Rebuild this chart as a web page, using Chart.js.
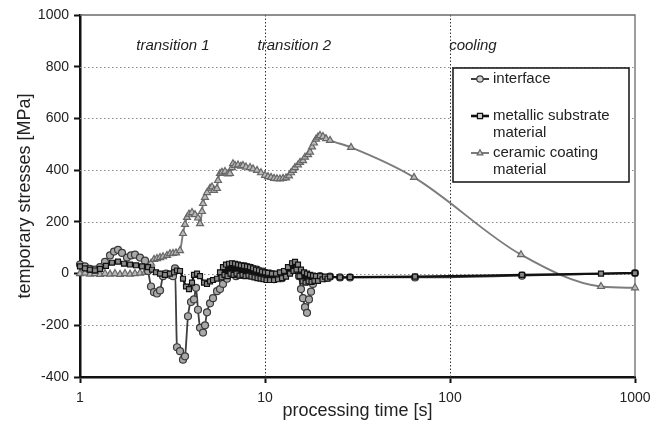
<!DOCTYPE html>
<html><head><meta charset="utf-8">
<script src="https://cdn.jsdelivr.net/npm/chart.js@4.4.0/dist/chart.umd.min.js"></script>
<style>html,body{margin:0;padding:0;background:#fff}#wrap{width:662px;height:422px}</style>
</head><body><div id="wrap"><canvas id="c" width="662" height="422"></canvas></div>
<script>
const xTickValues = [1, 10, 100, 1000];
const yGridValues = [-200, 0, 200, 400, 600, 800];
const xGridValues = [10, 100];

const interfaceX = [1.000,1.064,1.132,1.205,1.283,1.365,1.453,1.527,1.605,1.687,1.795,1.887,1.983,2.110,2.246,2.332,2.420,2.512,2.607,2.707,2.810,2.917,3.065,3.182,3.262,3.344,3.472,3.604,3.695,3.835,3.981,4.132,4.237,4.343,4.454,4.623,4.739,4.859,5.044,5.236,5.503,5.712,5.929,6.231,6.467,6.715,6.970,7.235,7.510,7.797,8.093,8.402,8.722,9.055,9.397,9.754,10.13,10.64,11.19,11.76,12.36,12.99,13.65,14.17,14.71,15.27,15.65,16.05,16.45,16.87,17.29,17.73,18.17,18.86,19.83,21.10,22.46,25.43,28.81,64.7,245,1000];
const interfaceY = [35,28,18,15,25,45,70,85,92,80,62,70,73,62,50,10,-50,-72,-77,-65,-10,0,-5,-10,20,-285,-300,-333,-320,-165,-110,-100,-55,-140,-210,-228,-200,-150,-115,-95,-68,-60,-40,-20,0,25,-10,30,-5,28,0,22,-8,15,-12,8,-20,0,-22,-5,-18,0,10,35,25,-10,-60,-95,-130,-152,-100,-70,-40,-20,-10,-18,-12,-15,-15,-15,-8,2];

const metallicX = [1.000,1.064,1.132,1.205,1.283,1.382,1.489,1.605,1.729,1.863,2.008,2.164,2.332,2.450,2.575,2.707,2.881,3.065,3.222,3.344,3.472,3.604,3.741,3.883,4.031,4.132,4.290,4.454,4.681,4.859,5.044,5.236,5.503,5.712,5.82,5.929,6.04,6.154,6.27,6.389,6.51,6.633,6.76,6.884,7.01,7.145,7.28,7.418,7.56,7.700,7.85,7.993,8.14,8.298,8.45,8.614,8.78,8.943,9.11,9.281,9.46,9.634,9.82,10.00,10.19,10.38,10.64,10.91,11.19,11.47,11.76,12.05,12.36,12.67,12.99,13.31,13.65,14.00,14.26,14.53,14.80,15.08,15.36,15.65,15.95,16.25,16.56,16.87,17.19,17.51,17.84,18.17,18.51,18.86,19.34,19.83,20.45,21.10,21.77,22.46,25.43,28.81,64.7,245,655,1000];
const metallicY = [28,20,15,12,18,30,42,46,38,35,32,28,25,15,5,0,-5,0,5,12,10,-20,-50,-60,-35,-5,0,-10,-35,-40,-30,-25,-20,5,-15,25,-5,35,-10,38,0,40,-5,38,0,35,-8,32,-5,30,-10,28,-8,25,-12,20,-15,15,-18,12,-20,8,-22,5,-25,3,-25,0,-25,0,-22,5,-18,10,-12,25,0,40,10,45,15,35,-10,15,-30,5,-35,0,-30,-5,-32,-8,-28,-10,-28,-10,-22,-12,-20,-12,-15,-14,-12,-5,0,2];

const ceramicX = [1.000,1.064,1.132,1.205,1.283,1.365,1.453,1.546,1.645,1.751,1.863,1.983,2.110,2.246,2.332,2.420,2.512,2.607,2.707,2.810,2.953,3.065,3.182,3.303,3.472,3.604,3.695,3.788,3.883,4.031,4.184,4.343,4.454,4.566,4.623,4.739,4.859,5.044,5.171,5.301,5.503,5.572,5.712,5.856,6.079,6.310,6.467,6.633,6.715,6.884,7.145,7.418,7.605,7.894,8.298,8.614,9.055,9.515,10.00,10.38,10.78,11.19,11.61,12.05,12.51,12.99,13.48,13.82,14.17,14.53,15.08,15.46,16.05,16.45,17.08,17.51,17.95,18.40,18.86,19.34,19.83,20.58,21.37,22.46,29.17,63.9,242,655,1000];
const ceramicY = [0,2,-2,0,-3,0,-2,0,-3,0,-2,0,2,5,20,40,55,58,62,65,70,77,78,80,89,155,190,217,230,236,228,215,193,240,271,295,313,330,335,322,329,360,387,392,395,385,387,410,425,418,420,415,418,412,410,405,399,390,380,375,372,368,367,366,368,370,378,390,399,410,420,430,437,450,460,470,490,505,520,528,534,530,522,515,488,372,73,-50,-55];

const seriesNames = ['interface', 'metallic substrate material', 'ceramic coating material'];
const legendLines = [['interface'], ['metallic substrate', 'material'], ['ceramic coating', 'material']];
const annotTexts = ['transition 1', 'transition 2', 'cooling'];
const annotX = [3.18, 14.4, 133];
const annotY = 880;

const FONT = "'Liberation Sans', Arial, Helvetica, sans-serif";
const toPts = (xs, ys) => xs.map((x, i) => ({x: x, y: ys[i]}));

const styles = [
  {color: '#3e3e3e', width: 1.8, point: 'circle', r: 3.5, fill: '#a9a9a9', pb: '#3a3a3a'},
  {color: '#111111', width: 2.2, point: 'rect', r: 3.5, fill: '#8a8a8a', pb: '#111111'},
  {color: '#7c7c7c', width: 1.9, point: 'triangle', r: 4, fill: '#b9b9b9', pb: '#666666'}
];

function drawMarker(ctx, style, x, y, r, fill, stroke) {
  ctx.save();
  ctx.fillStyle = fill; ctx.strokeStyle = stroke; ctx.lineWidth = 1.2;
  ctx.beginPath();
  if (style === 'circle') ctx.arc(x, y, r, 0, Math.PI * 2);
  else if (style === 'rect') ctx.rect(x - r * 0.8, y - r * 0.8, r * 1.6, r * 1.6);
  else { ctx.moveTo(x, y - r); ctx.lineTo(x + r * 0.9, y + r * 0.6); ctx.lineTo(x - r * 0.9, y + r * 0.6); ctx.closePath(); }
  ctx.fill(); ctx.stroke();
  ctx.restore();
}

const gridPlugin = {
  id: 'gridPlugin',
  beforeDatasetsDraw(chart) {
    const {ctx, chartArea: a, scales: {x, y}} = chart;
    ctx.save();
    ctx.lineWidth = 1;
    ctx.strokeStyle = '#8a8a8a';
    ctx.setLineDash([1.5, 2.5]);
    yGridValues.forEach(v => {
      const py = Math.round(y.getPixelForValue(v)) + 0.5;
      ctx.beginPath(); ctx.moveTo(a.left, py); ctx.lineTo(a.right, py); ctx.stroke();
    });
    ctx.strokeStyle = '#333';
    ctx.setLineDash([1.5, 2]);
    xGridValues.forEach(v => {
      const px = Math.round(x.getPixelForValue(v)) + 0.5;
      ctx.beginPath(); ctx.moveTo(px, a.top); ctx.lineTo(px, a.bottom); ctx.stroke();
    });
    ctx.setLineDash([]);
    ctx.strokeStyle = '#6a6a6a';
    ctx.lineWidth = 1.3;
    const topY = y.getPixelForValue(1000), rightX = x.getPixelForValue(1000);
    ctx.beginPath(); ctx.moveTo(a.left, topY); ctx.lineTo(rightX, topY); ctx.lineTo(rightX, a.bottom); ctx.stroke();
    ctx.restore();
  },
  afterDraw(chart) {
    const {ctx, chartArea: a, scales: {x, y}} = chart;
    ctx.save();
    ctx.font = 'italic 15px ' + FONT;
    ctx.fillStyle = '#222';
    ctx.textAlign = 'center';
    ctx.textBaseline = 'middle';
    annotTexts.forEach((t, i) => ctx.fillText(t, x.getPixelForValue(annotX[i]), y.getPixelForValue(annotY)));
    // legend
    const bx = a.right - 182, by = a.top + 53, bw = 176, bh = 114;
    ctx.fillStyle = '#fff';
    ctx.fillRect(bx, by, bw, bh);
    ctx.strokeStyle = '#111';
    ctx.lineWidth = 1.5;
    ctx.strokeRect(bx, by, bw, bh);
    const rowY = [[11], [48, 65], [85, 102]];
    ctx.font = '15px ' + FONT;
    ctx.textAlign = 'left';
    legendLines.forEach((lines, i) => {
      const s = styles[i];
      const ly = by + rowY[i][0];
      ctx.strokeStyle = s.color;
      ctx.lineWidth = i === 1 ? 2.6 : 2;
      ctx.beginPath(); ctx.moveTo(bx + 18, ly); ctx.lineTo(bx + 36, ly); ctx.stroke();
      drawMarker(ctx, s.point, bx + 27, ly, 3.2, '#d0d0d0', s.pb);
      ctx.fillStyle = '#222';
      lines.forEach((t, j) => ctx.fillText(t, bx + 40, by + rowY[i][j]));
    });
    ctx.restore();
  }
};

const datasets = [
  {data: toPts(interfaceX, interfaceY), order: 1},
  {data: toPts(metallicX, metallicY), order: 0},
  {data: toPts(ceramicX, ceramicY), order: 2}
].map((d, i) => Object.assign(d, {
  label: seriesNames[i],
  borderColor: styles[i].color,
  borderWidth: styles[i].width,
  pointStyle: styles[i].point,
  pointRadius: styles[i].r,
  pointBackgroundColor: styles[i].fill,
  pointBorderColor: styles[i].pb,
  pointBorderWidth: 1.2,
  cubicInterpolationMode: 'monotone',
  fill: false,
  clip: false
}));

new Chart(document.getElementById('c'), {
  type: 'line',
  data: {datasets: datasets},
  options: {
    responsive: false,
    animation: false,
    devicePixelRatio: 1,
    layout: {padding: {top: 15, right: 27, bottom: 0, left: 0}},
    plugins: {legend: {display: false}, tooltip: {enabled: false}},
    scales: {
      x: {
        type: 'logarithmic', min: 1, max: 1000,
        afterBuildTicks: s => { s.ticks = xTickValues.map(v => ({value: v, major: true})); },
        afterFit: s => { s.height = 45; },
        ticks: {callback: v => String(v), font: {family: FONT, size: 14}, color: '#222', maxRotation: 0, autoSkip: false, padding: 7},
        grid: {drawOnChartArea: false, drawTicks: true, tickLength: 6, tickWidth: 2, tickColor: '#111'},
        border: {display: true, color: '#111', width: 2.5},
        title: {display: true, text: 'processing time [s]', font: {family: FONT, size: 18}, color: '#222', padding: {top: 0, bottom: 0}}
      },
      y: {
        type: 'linear', min: -400, max: 1000,
        afterFit: s => { s.width = 80; },
        ticks: {stepSize: 200, callback: v => String(v), font: {family: FONT, size: 14}, color: '#222', padding: 5},
        grid: {drawOnChartArea: false, drawTicks: true, tickLength: 6, tickWidth: 2, tickColor: '#111'},
        border: {display: true, color: '#111', width: 2.5},
        title: {display: true, text: 'temporary stresses [MPa]', font: {family: FONT, size: 18}, color: '#222', padding: {top: 14, bottom: 0}}
      }
    }
  },
  plugins: [gridPlugin]
});
</script>
</body></html>
